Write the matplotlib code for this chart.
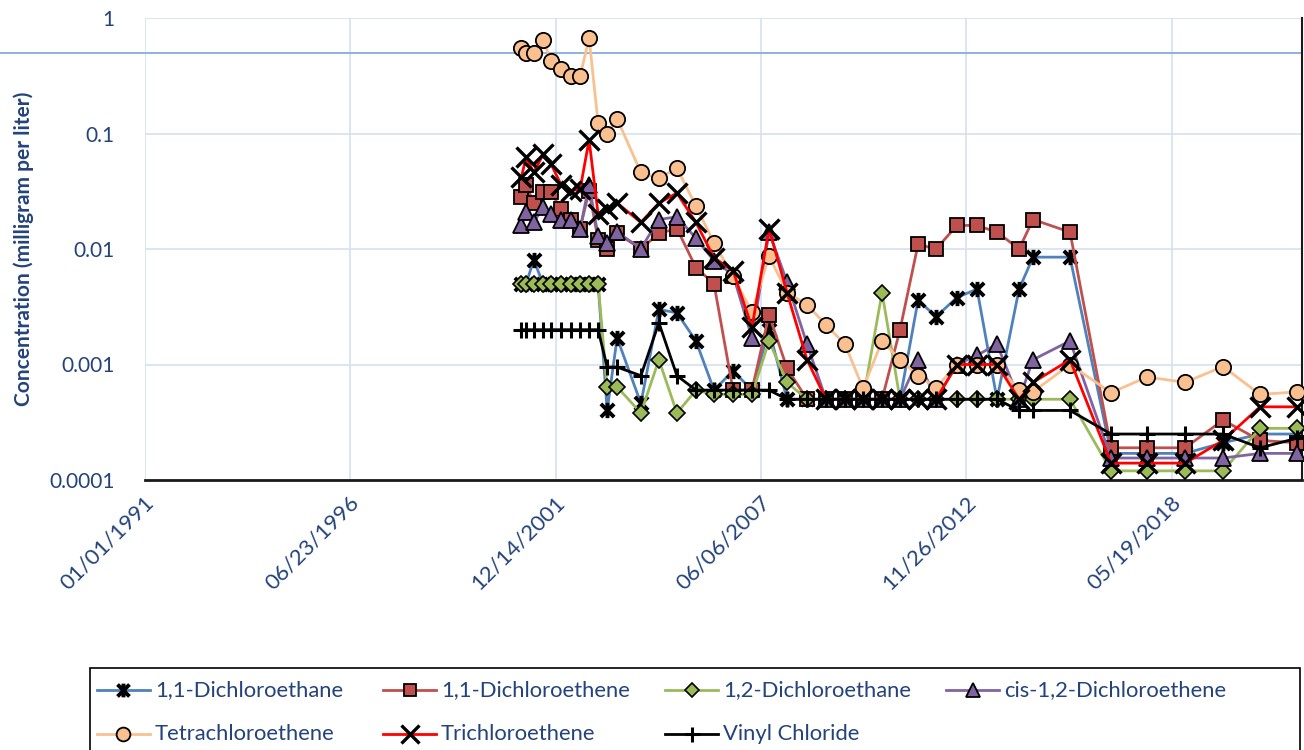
import matplotlib
matplotlib.use("Agg")
import matplotlib.pyplot as plt
from matplotlib.path import Path
from matplotlib.lines import Line2D
from matplotlib.patches import Rectangle
from matplotlib.transforms import ScaledTranslation
from matplotlib.ticker import FixedLocator, FixedFormatter, NullLocator
import pandas as pd

# ---- sampling dates ----
sample_dates = pd.to_datetime([
    "2001-01-15", "2001-03-01", "2001-05-15", "2001-08-15", "2001-11-01",
    "2002-02-05", "2002-05-15", "2002-08-10", "2002-11-05", "2003-02-01",
    "2003-04-30", "2003-08-05", "2004-03-24", "2004-09-15", "2005-03-10",
    "2005-09-11", "2006-03-06", "2006-09-07", "2007-03-11", "2007-08-24",
    "2008-02-15", "2008-08-28", "2009-03-01", "2009-09-02", "2010-02-25",
    "2010-08-29", "2011-02-20", "2011-08-15", "2012-02-06", "2012-08-28",
    "2013-03-11", "2013-09-22", "2014-04-25", "2014-09-08", "2015-09-03",
    "2016-10-07", "2017-09-23", "2018-09-28", "2019-10-03", "2020-09-27",
    "2021-09-23",
])

# ---- concentrations (mg/L) ----
dichloroethane_11 = [
    0.005, 0.005, 0.008, 0.005, 0.005, 0.005, 0.005, 0.005, 0.005, 0.005,
    0.0004, 0.0017, 0.00046, 0.003, 0.0028, 0.0016, 0.0006, 0.00088, 0.0006, 0.002,
    0.0005, 0.0005, 0.0005, 0.0005, 0.0005, 0.0005, 0.0005, 0.0036, 0.0026, 0.0038,
    0.0045, 0.0005, 0.0045, 0.0085, 0.0085, 0.00017, 0.00017, 0.00017, 0.00021, 0.00025,
    0.00025,
]
dichloroethene_11 = [
    0.028, 0.036, 0.025, 0.031, 0.031, 0.022, 0.018, 0.015, 0.032, 0.012,
    0.010, 0.0137, 0.010, 0.0137, 0.015, 0.0069, 0.0050, 0.0006, 0.0006, 0.0027,
    0.00093, 0.0005, 0.0005, 0.0005, 0.0005, 0.0005, 0.002, 0.011, 0.010, 0.016,
    0.016, 0.014, 0.010, 0.018, 0.014, 0.00019, 0.00019, 0.00019, 0.00033, 0.00022,
    0.00021,
]
dichloroethane_12 = [
    0.005, 0.005, 0.005, 0.005, 0.005, 0.005, 0.005, 0.005, 0.005, 0.005,
    0.00064, 0.00064, 0.00038, 0.0011, 0.00038, 0.0006, 0.00055, 0.00055, 0.00055, 0.0016,
    0.0007, 0.0005, 0.0005, 0.0005, 0.0005, 0.0042, 0.0005, 0.0005, 0.0005, 0.0005,
    0.0005, 0.0005, 0.0005, 0.0005, 0.0005, 0.00012, 0.00012, 0.00012, 0.00012, 0.00028,
    0.00028,
]
cis_dichloroethene_12 = [
    0.016, 0.021, 0.017, 0.023, 0.020, 0.018, 0.018, 0.015, 0.036, 0.013,
    0.0112, 0.014, 0.0101, 0.018, 0.019, 0.0124, 0.0079, 0.006, 0.0017, 0.014,
    0.0052, 0.0015, 0.0005, 0.0005, 0.0005, 0.0005, 0.0005, 0.0011, 0.0005, 0.001,
    0.0012, 0.0015, 0.0005, 0.0011, 0.0016, 0.000155, 0.000155, 0.000155, 0.000155, 0.00017,
    0.00017,
]
tetrachloroethene = [
    0.55, 0.50, 0.50, 0.645, 0.425, 0.36, 0.315, 0.315, 0.67, 0.123,
    0.10, 0.134, 0.046, 0.041, 0.050, 0.0236, 0.0113, 0.0058, 0.00285, 0.0087,
    0.0042, 0.0033, 0.0022, 0.0015, 0.00062, 0.0016, 0.0011, 0.0008, 0.00063, 0.001,
    0.001, 0.001, 0.0006, 0.00058, 0.001, 0.00057, 0.00078, 0.0007, 0.00096, 0.00055,
    0.00058,
]
trichloroethene = [
    0.042, 0.062, 0.046, 0.066, 0.054, 0.036, 0.032, 0.033, 0.088, 0.020,
    0.022, 0.025, 0.017, 0.025, 0.0305, 0.017, 0.0084, 0.0065, 0.0021, 0.015,
    0.0042, 0.0011, 0.0005, 0.0005, 0.0005, 0.0005, 0.0005, 0.0005, 0.0005, 0.001,
    0.001, 0.001, 0.0005, 0.0007, 0.0011, 0.00014, 0.00014, 0.00014, 0.00022, 0.00043,
    0.00043,
]
vinyl_chloride = [
    0.002, 0.002, 0.002, 0.002, 0.002, 0.002, 0.002, 0.002, 0.002, 0.002,
    0.00095, 0.00095, 0.0008, 0.0023, 0.0008, 0.0006, 0.0006, 0.0006, 0.0006, 0.0006,
    0.0005, 0.0005, 0.0005, 0.0005, 0.0005, 0.0005, 0.0005, 0.0005, 0.0005, 0.0005,
    0.0005, 0.0005, 0.0004, 0.0004, 0.0004, 0.00025, 0.00025, 0.00025, 0.00025, 0.00019,
    0.00023,
]

series_names = [
    "1,1-Dichloroethane", "1,1-Dichloroethene", "1,2-Dichloroethane",
    "cis-1,2-Dichloroethene", "Tetrachloroethene", "Trichloroethene", "Vinyl Chloride",
]
series_values = [
    dichloroethane_11, dichloroethene_11, dichloroethane_12,
    cis_dichloroethene_12, tetrachloroethene, trichloroethene, vinyl_chloride,
]

standard_level = 0.5
y_ticks = [0.0001, 0.001, 0.01, 0.1, 1]
y_tick_labels = ["0.0001", "0.001", "0.01", "0.1", "1"]
x_start = pd.Timestamp("1991-01-01")
x_end = pd.Timestamp("2021-11-10")
x_ticks = pd.date_range(x_start, periods=6, freq="2000D")

# ---- styles ----
FONT = "Lato"
TXT = "#23437A"
GRID = "#D6E2F1"
plt.rcParams["font.family"] = [FONT, "DejaVu Sans"]

# asterisk-like marker (X with a vertical bar)
star_path = Path(
    [(-1, -1), (1, 1), (-1, 1), (1, -1), (0, -1.15), (0, 1.15)],
    [Path.MOVETO, Path.LINETO, Path.MOVETO, Path.LINETO, Path.MOVETO, Path.LINETO],
)

styles = [
    dict(color="#4F81BD", marker=star_path, ms=11, mfc="none", mec="black", mew=2.8),
    dict(color="#C0504D", marker="s", ms=10, mfc="#C0504D", mec="black", mew=1.3),
    dict(color="#9BBB59", marker="D", ms=8, mfc="#9BBB59", mec="black", mew=1.2),
    dict(color="#8064A2", marker="^", ms=11, mfc="#8064A2", mec="black", mew=1.3),
    dict(color="#FAC090", marker="o", ms=11, mfc="#FAC090", mec="black", mew=1.3),
    dict(color="#FF0000", marker="x", ms=14, mfc="none", mec="black", mew=2.4),
    dict(color="black", marker="+", ms=12, mfc="none", mec="black", mew=2.2),
]

W, H = 1304, 750
fig = plt.figure(figsize=(W / 100, H / 100), dpi=100)
ax = fig.add_axes([145 / W, 1 - 480 / H, (1302 - 145) / W, (480 - 18) / H])

ax.set_yscale("log")
ax.set_ylim(1e-4, 1)
ax.set_xlim(x_start, x_end)

ax.yaxis.set_major_locator(FixedLocator(y_ticks))
ax.yaxis.set_major_formatter(FixedFormatter(y_tick_labels))
ax.yaxis.set_minor_locator(NullLocator())
ax.set_xticks(x_ticks)
ax.set_xticklabels([t.strftime("%m/%d/%Y") for t in x_ticks])

ax.grid(True, color=GRID, lw=1.2)
ax.set_axisbelow(True)

# standard line
ax.plot([-145 / 1157, 1], [standard_level, standard_level], color="#8DB2E0", lw=1.4,
        transform=ax.get_yaxis_transform(), clip_on=False, zorder=1.5)

lines = []
for name, vals, st in zip(series_names, series_values, styles):
    ln, = ax.plot(sample_dates, vals, lw=2, label=name, clip_on=False, zorder=3, **st)
    lines.append(ln)

for side in ["top", "left"]:
    ax.spines[side].set_visible(False)
ax.spines["bottom"].set_color("#1A1A1A")
ax.spines["bottom"].set_linewidth(2)
ax.spines["right"].set_color("#1A1A1A")
ax.spines["right"].set_linewidth(1.5)

ax.tick_params(axis="both", length=0, colors=TXT, labelsize=16)
ax.tick_params(axis="y", pad=22, labelsize=15)
ax.tick_params(axis="x", pad=14)
for lbl in ax.get_xticklabels():
    lbl.set_rotation(45)
    lbl.set_ha("right")
    lbl.set_va("center")
    lbl.set_rotation_mode("anchor")
    lbl.set_transform(lbl.get_transform() + ScaledTranslation(6 / 100, 0, fig.dpi_scale_trans))

ax.set_ylabel("Concentration (milligram per liter)", color=TXT, fontsize=15,
              fontweight="bold")
ax.yaxis.set_label_coords((34 - 145) / 1157, 0.5)

# ---- legend box with entries laid out in two rows of four ----
fig.patches.append(Rectangle((90 / W, -0.02), (1300 - 90) / W, 1 - 668 / H + 0.02,
                             transform=fig.transFigure, fill=False, ec="black", lw=1.2))
col_x = [97, 383, 665, 946]
row_y = [690, 734]
hlen = 53
for i, (ln, st) in enumerate(zip(lines, styles)):
    cx = col_x[i % 4]
    cy = row_y[i // 4]
    yf = 1 - cy / H
    fig.add_artist(Line2D([cx / W, (cx + hlen) / W], [yf, yf], transform=fig.transFigure,
                          color=st["color"], lw=2))
    fig.add_artist(Line2D([(cx + hlen / 2) / W], [yf], transform=fig.transFigure,
                          linestyle="none", marker=st["marker"], ms=st["ms"] * 0.9,
                          mfc=st["mfc"], mec=st["mec"], mew=st["mew"]))
    fig.text((cx + hlen + 5) / W, yf, ln.get_label(), color=TXT, fontsize=15.8,
             va="center", ha="left")

fig.savefig("out.png", dpi=100)
